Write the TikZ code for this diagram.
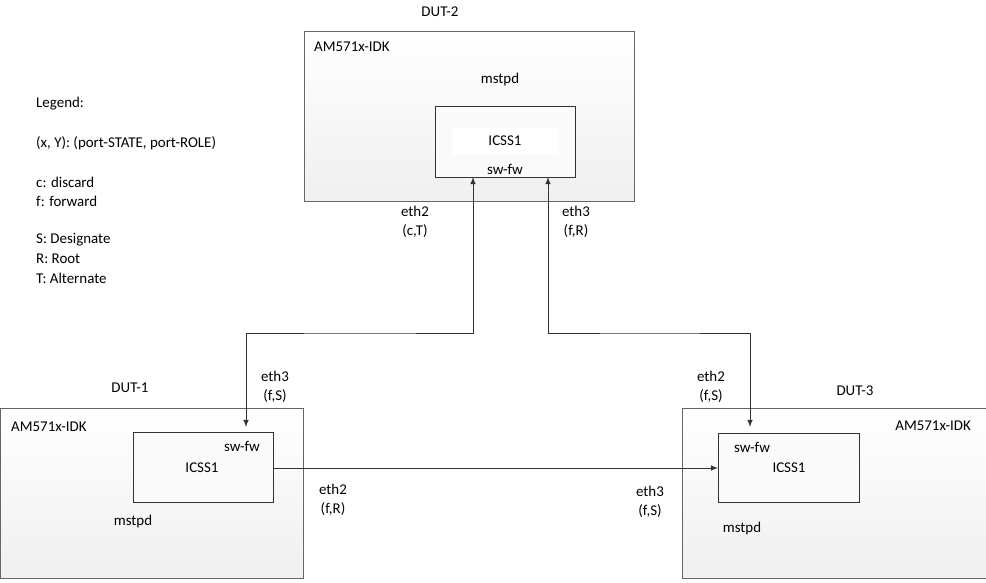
\documentclass[tikz,border=0pt]{standalone}
\usepackage{fontspec}
\setmainfont{Carlito}
\usetikzlibrary{positioning}
\begin{document}
\begin{tikzpicture}[x=0.02cm,y=-0.02cm,font=\fontsize{8.5}{10.5}\selectfont,
  board/.style={draw=gray!80!black,top color=white,bottom color=gray!12},
  icss/.style={draw=black!80,fill=gray!4},
  port/.style={align=center},
  link/.style={draw=black!80,<->,>=latex}]
  \useasboundingbox (0,0) rectangle (986,582);

  % Legende
  \node[anchor=west] at (30,104) {Legend:};
  \node[anchor=west] at (30,143) {(x, Y): (port-STATE, port-ROLE)};
  \node[anchor=west] at (30,182) {c: discard};
  \node[anchor=west] at (30,201) {f: forward};
  \node[anchor=west] at (30,240) {S: Designate};
  \node[anchor=west] at (30,259) {R: Root};
  \node[anchor=west] at (30,278) {T: Alternate};

  % DUT-2
  \draw[board] (304,31) rectangle (634,201);
  \node at (440,12) {DUT-2};
  \node[anchor=west] at (308,47) {AM571x-IDK};
  \node at (500,80) {mstpd};
  \draw[icss] (435,106) rectangle (575,177);
  \fill[white] (452,128) rectangle (558,155);
  \node at (505,141) {ICSS1};
  \node at (505,169) {sw-fw};
  \coordinate (d2a) at (473,177);
  \coordinate (d2b) at (548,177);

  % DUT-1
  \draw[board] (0,408) rectangle (303,578);
  \node at (130,388) {DUT-1};
  \node[anchor=west] at (5,427) {AM571x-IDK};
  \node at (133,522) {mstpd};
  \draw[icss] (133,432) rectangle (273,502);
  \node at (242,446) {sw-fw};
  \node at (202,468) {ICSS1};
  \coordinate (d1a) at (246,427);
  \coordinate (d1b) at (273,468);

  % DUT-3
  \draw[board] (682,408) rectangle (986,578);
  \node at (855,391) {DUT-3};
  \node[anchor=east] at (977,426) {AM571x-IDK};
  \node at (742,529) {mstpd};
  \draw[icss] (718,433) rectangle (859,502);
  \node at (752,447) {sw-fw};
  \node at (789,468) {ICSS1};
  \coordinate (d3a) at (750,427);
  \coordinate (d3b) at (718,468);

  % Liens
  \draw[link] (d2a) |- (360,333) -| (d1a);
  \draw[link] (d2b) |- (650,333) -| (d3a);
  \draw[link,<-] (d3b) -- (d1b);

  % Ports
  \node[port] at (415,222) {eth2\\(c,T)};
  \node[port] at (576,222) {eth3\\(f,R)};
  \node[port] at (275,387) {eth3\\(f,S)};
  \node[port] at (711,387) {eth2\\(f,S)};
  \node[port] at (333,500) {eth2\\(f,R)};
  \node[port] at (650,502) {eth3\\(f,S)};
\end{tikzpicture}
\end{document}
